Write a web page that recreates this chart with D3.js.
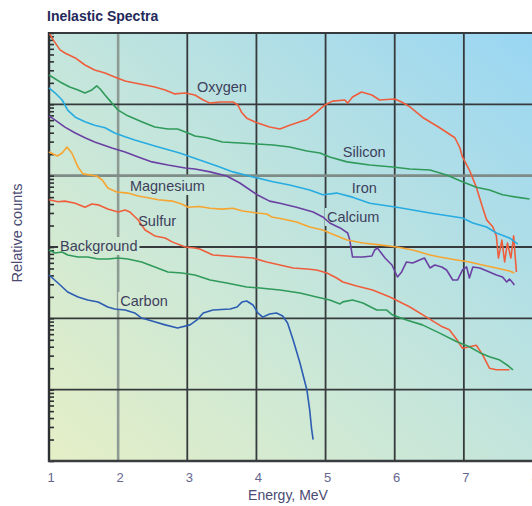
<!DOCTYPE html>
<html>
<head>
<meta charset="utf-8">
<script src="https://cdn.jsdelivr.net/npm/d3@7"></script>
<style>
  html, body { margin: 0; padding: 0; background: #fff; }
  svg { display: block; }
</style>
</head>
<body>
<div id="chart"></div>
<script>
// Datos: [energía MeV, cuentas relativas]
const energyTicks = [1, 2, 3, 4, 5, 6, 7, 8]
const decades = [1, 10, 100, 1e3, 1e4, 1e5, 1e6]

const oxygen = [
  [1.01, 9.7e5], [1.06, 8.0e5], [1.16, 5.8e5], [1.23, 5.25e5], [1.38, 4.47e5], [1.52, 3.56e5],
  [1.66, 3.03e5], [1.81, 2.75e5], [1.95, 2.42e5], [2.10, 2.12e5], [2.24, 1.99e5], [2.39, 1.87e5],
  [2.53, 1.75e5], [2.68, 1.59e5], [2.82, 1.40e5], [2.97, 1.44e5], [3.11, 1.35e5], [3.23, 1.15e5],
  [3.33, 1.04e5], [3.47, 1.08e5], [3.66, 1.08e5], [3.73, 9.8e4], [3.79, 7.6e4], [3.86, 6.4e4],
  [4.01, 5.5e4], [4.19, 4.8e4], [4.34, 4.5e4], [4.48, 5.1e4], [4.63, 5.7e4], [4.74, 6.2e4],
  [4.87, 7.8e4], [4.99, 9.8e4], [5.10, 1.11e5], [5.28, 1.15e5], [5.32, 1.04e5], [5.39, 1.27e5],
  [5.52, 1.49e5], [5.67, 1.35e5], [5.78, 1.15e5], [6.00, 1.19e5], [6.10, 1.08e5], [6.22, 9.2e4],
  [6.40, 6.6e4], [6.65, 4.7e4], [6.87, 3.4e4], [6.94, 2.5e4], [6.98, 1.83e4], [7.08, 1.2e4],
  [7.18, 6.9e3], [7.27, 3.6e3], [7.33, 2.4e3], [7.42, 1.91e3], [7.47, 1.43e3], [7.50, 700],
  [7.55, 1.25e3], [7.59, 617], [7.63, 1.14e3], [7.68, 700], [7.72, 1.43e3], [7.76, 447]
]
const silicon = [
  [1.00, 2.58e5], [1.16, 2.06e5], [1.30, 1.75e5], [1.42, 1.59e5], [1.52, 1.44e5], [1.62, 1.59e5],
  [1.69, 1.81e5], [1.74, 1.64e5], [1.81, 1.35e5], [1.91, 1.04e5], [2.00, 8.3e4], [2.14, 6.9e4],
  [2.34, 5.7e4], [2.53, 4.8e4], [2.72, 4.5e4], [2.86, 4.5e4], [3.01, 3.96e4], [3.11, 3.6e4],
  [3.28, 3.4e4], [3.51, 2.97e4], [3.76, 2.87e4], [4.01, 2.78e4], [4.24, 2.69e4], [4.48, 2.52e4],
  [4.73, 2.22e4], [4.92, 2.08e4], [5.06, 1.83e4], [5.31, 1.56e4], [5.64, 1.41e4], [5.97, 1.32e4],
  [6.22, 1.24e4], [6.51, 1.2e4], [6.75, 1.02e4], [6.98, 8.2e3], [7.18, 6.9e3], [7.37, 6.3e3],
  [7.56, 5.4e3], [7.76, 5.0e3], [7.95, 4.7e3]
]
const iron = [
  [1.00, 1.70e5], [1.09, 1.44e5], [1.19, 1.15e5], [1.27, 8.3e4], [1.38, 6.6e4], [1.52, 5.7e4],
  [1.66, 5.1e4], [1.81, 4.7e4], [1.95, 3.96e4], [2.10, 3.5e4], [2.24, 3.16e4], [2.53, 2.6e4],
  [2.89, 2.08e4], [3.18, 1.66e4], [3.47, 1.32e4], [3.66, 1.13e4], [3.95, 9.6e3], [4.24, 8.2e3],
  [4.48, 7.4e3], [4.77, 6.3e3], [4.96, 5.4e3], [5.16, 5.7e3], [5.39, 5.0e3], [5.64, 4.1e3],
  [6.03, 3.6e3], [6.26, 3.3e3], [6.51, 3.0e3], [6.98, 2.55e3], [7.13, 2.17e3], [7.33, 1.91e3],
  [7.47, 1.57e3], [7.66, 1.34e3], [7.78, 1.10e3]
]
const calcium = [
  [1.00, 6.9e4], [1.09, 6.0e4], [1.23, 4.8e4], [1.38, 3.96e4], [1.52, 3.4e4], [1.66, 2.97e4],
  [1.91, 2.44e4], [2.10, 2.15e4], [2.29, 1.83e4], [2.49, 1.56e4], [2.72, 1.41e4], [2.97, 1.28e4],
  [3.11, 1.24e4], [3.33, 1.13e4], [3.57, 9.9e3], [3.76, 7.9e3], [4.01, 5.4e3], [4.19, 4.4e3],
  [4.34, 4.1e3], [4.58, 3.6e3], [4.82, 3.1e3], [4.96, 2.64e3], [5.06, 2.17e3], [5.21, 1.85e3],
  [5.32, 1.57e3], [5.35, 1.25e3], [5.39, 724], [5.54, 724], [5.67, 748], [5.71, 908],
  [5.75, 968], [5.86, 701], [5.96, 560], [6.04, 380], [6.10, 447], [6.17, 617], [6.26, 597],
  [6.36, 658], [6.43, 701], [6.51, 508], [6.58, 560], [6.68, 525], [6.75, 476], [6.84, 345],
  [6.91, 345], [6.98, 476], [7.04, 525], [7.08, 368], [7.13, 525], [7.23, 508], [7.37, 447],
  [7.47, 405], [7.56, 380], [7.62, 323], [7.66, 356], [7.71, 313], [7.73, 293]
]
const magnesium = [
  [1.00, 2.15e4], [1.12, 1.89e4], [1.19, 2.08e4], [1.26, 2.52e4], [1.33, 2.08e4], [1.42, 1.32e4],
  [1.49, 1.06e4], [1.69, 9.9e3], [1.77, 8.7e3], [1.85, 6.7e3], [1.98, 5.9e3], [2.14, 5.7e3],
  [2.29, 5.2e3], [2.43, 4.9e3], [2.58, 4.6e3], [2.78, 4.4e3], [2.92, 4.0e3], [3.01, 3.6e3],
  [3.18, 3.7e3], [3.33, 3.5e3], [3.51, 3.4e3], [3.66, 3.5e3], [3.80, 3.2e3], [4.01, 3.0e3],
  [4.15, 2.9e3], [4.22, 2.64e3], [4.38, 2.47e3], [4.58, 2.24e3], [4.77, 1.91e3], [4.96, 1.73e3],
  [5.06, 1.57e3], [5.31, 1.25e3], [5.54, 1.14e3], [5.78, 1.07e3], [6.03, 1.0e3], [6.26, 908],
  [6.51, 773], [6.65, 724], [6.90, 658], [7.08, 617], [7.27, 560], [7.47, 508], [7.66, 461],
  [7.73, 432]
]
const sulfur = [
  [1.00, 4.6e3], [1.13, 4.3e3], [1.23, 4.4e3], [1.38, 4.1e3], [1.52, 3.6e3], [1.62, 4.0e3],
  [1.71, 3.9e3], [1.85, 3.4e3], [2.00, 3.1e3], [2.10, 3.3e3], [2.17, 3.1e3], [2.29, 2.39e3],
  [2.39, 1.73e3], [2.53, 1.43e3], [2.68, 1.34e3], [2.78, 1.18e3], [2.97, 1.0e3], [3.11, 968],
  [3.18, 938], [3.37, 773], [3.57, 748], [3.76, 724], [3.95, 701], [4.15, 617], [4.34, 560],
  [4.53, 508], [4.73, 492], [4.87, 476], [5.02, 432], [5.16, 368], [5.25, 323], [5.45, 284],
  [5.68, 250], [5.93, 199], [6.22, 144], [6.46, 104], [6.69, 76], [6.79, 69], [6.90, 50],
  [6.98, 38], [7.08, 40], [7.18, 42], [7.27, 31], [7.37, 20], [7.47, 19], [7.66, 19]
]
const background = [
  [1.00, 908], [1.09, 824], [1.19, 851], [1.27, 773], [1.42, 724], [1.56, 724], [1.71, 679],
  [1.85, 679], [2.00, 701], [2.14, 679], [2.34, 617], [2.53, 525], [2.72, 447], [2.92, 432],
  [3.11, 405], [3.33, 345], [3.57, 313], [3.86, 275], [4.05, 266], [4.34, 250], [4.63, 227],
  [4.87, 199], [5.06, 181], [5.21, 159], [5.25, 170], [5.39, 181], [5.54, 164], [5.74, 131],
  [5.88, 131], [5.97, 111], [6.17, 95], [6.40, 81], [6.65, 62], [6.90, 47], [7.08, 40],
  [7.23, 33], [7.37, 29], [7.52, 26], [7.63, 22], [7.71, 19]
]
const carbon = [
  [1.00, 405], [1.13, 313], [1.27, 234], [1.42, 199], [1.56, 181], [1.71, 169], [1.85, 144],
  [1.95, 135], [2.10, 131], [2.24, 119], [2.34, 101], [2.49, 92], [2.68, 81], [2.86, 73],
  [3.04, 81], [3.14, 95], [3.23, 119], [3.37, 131], [3.62, 135], [3.72, 144], [3.79, 169],
  [3.86, 175], [3.95, 154], [4.02, 119], [4.09, 104], [4.19, 115], [4.29, 119], [4.38, 108],
  [4.45, 86], [4.53, 50], [4.63, 23.7], [4.73, 9.9], [4.77, 5.2], [4.80, 2.7], [4.82, 2.0]
]

// Etiquetas: nombre y punto de anclaje [energía, cuentas]
const labelNames = ["Oxygen", "Silicon", "Iron", "Magnesium", "Calcium", "Sulfur", "Background", "Carbon"]
const labelAnchors = [[3.14, 1.49e5], [5.25, 1.83e4], [5.38, 5.7e3], [2.17, 6.1e3], [5.02, 2.24e3], [2.29, 1.97e3], [1.16, 879], [2.03, 149]]

const series = [
  { data: oxygen, color: "#ef5e3c" },
  { data: silicon, color: "#2f9a5a" },
  { data: iron, color: "#27abe0" },
  { data: calcium, color: "#6a40a2" },
  { data: magnesium, color: "#f6a531" },
  { data: sulfur, color: "#ef5e3c" },
  { data: background, color: "#2f9a5a" },
  { data: carbon, color: "#2c5db2" }
]

const W = 532, H = 506
const mLeft = 49, mRight = 533, mTop = 33, mBottom = 461

const svg = d3.select("#chart").append("svg")
  .attr("width", W)
  .attr("height", H)

const x = d3.scaleLinear().domain([1, 8]).range([mLeft, mRight])
const y = d3.scaleLog().domain([1, 1e6]).range([mBottom, mTop])

const defs = svg.append("defs")
const grad = defs.append("linearGradient")
  .attr("id", "bg")
  .attr("x1", 0).attr("y1", 1).attr("x2", 1).attr("y2", 0)
grad.append("stop").attr("offset", 0).attr("stop-color", "#e5efc6")
grad.append("stop").attr("offset", 0.5).attr("stop-color", "#c3e5dc")
grad.append("stop").attr("offset", 1).attr("stop-color", "#99d6f3")

const mask = defs.append("mask")
  .attr("id", "gridMask")
  .attr("maskUnits", "userSpaceOnUse")
  .attr("x", 0).attr("y", 0).attr("width", W).attr("height", H)
mask.append("rect").attr("width", W).attr("height", H).attr("fill", "#fff")

// Fondo del área
svg.append("rect")
  .attr("x", mLeft).attr("y", mTop)
  .attr("width", W - mLeft).attr("height", mBottom - mTop)
  .attr("fill", "url(#bg)")

// Rejilla
const grid = svg.append("g").attr("mask", "url(#gridMask)")
grid.selectAll("line.v")
  .data(energyTicks.slice(1))
  .join("line")
  .attr("class", "v")
  .attr("x1", d => x(d)).attr("x2", d => x(d))
  .attr("y1", mTop).attr("y2", mBottom)
  .attr("stroke", d => d === 2 ? "#8e9b94" : "#363a3c")
  .attr("stroke-width", d => d === 2 ? 2.6 : 1.8)

grid.selectAll("line.h")
  .data(decades.slice(1))
  .join("line")
  .attr("class", "h")
  .attr("x1", mLeft).attr("x2", W)
  .attr("y1", d => y(d)).attr("y2", d => y(d))
  .attr("stroke", d => d === 1e4 ? "#7f8b86" : "#363a3c")
  .attr("stroke-width", d => d === 1e4 ? 2.6 : 1.8)

// Marcas menores del eje izquierdo
svg.append("g")
  .attr("transform", `translate(${mLeft},0)`)
  .call(d3.axisRight(y).tickSize(5).tickFormat(""))
  .call(g => g.select(".domain").remove())
  .call(g => g.selectAll(".tick line").attr("stroke", "#2e3133").attr("stroke-width", 1.6))

// Bordes
svg.append("line").attr("x1", mLeft).attr("x2", mLeft).attr("y1", mTop - 1).attr("y2", mBottom + 1)
  .attr("stroke", "#2e3133").attr("stroke-width", 2.4)
svg.append("line").attr("x1", mLeft - 1).attr("x2", W).attr("y1", mBottom).attr("y2", mBottom)
  .attr("stroke", "#3a3d3f").attr("stroke-width", 2.4)

// Curvas
const line = d3.line()
  .x(d => x(d[0]))
  .y(d => y(d[1]))

svg.append("g")
  .selectAll("path")
  .data(series)
  .join("path")
  .attr("d", d => line(d.data))
  .attr("fill", "none")
  .attr("stroke", d => d.color)
  .attr("stroke-width", 1.6)
  .attr("stroke-linejoin", "round")

// Etiquetas de curvas
const font = "'Liberation Sans', Arial, sans-serif"
const labels = svg.append("g")
  .selectAll("text")
  .data(labelNames)
  .join("text")
  .attr("x", (d, i) => x(labelAnchors[i][0]))
  .attr("y", (d, i) => y(labelAnchors[i][1]))
  .attr("font-family", font)
  .attr("font-size", 14.5)
  .attr("fill", "#3d3f5c")
  .text(d => d)

labels.each(function() {
  const b = this.getBBox()
  mask.append("rect")
    .attr("x", b.x - 2).attr("y", b.y - 1)
    .attr("width", b.width + 4).attr("height", b.height + 2)
    .attr("fill", "#000")
})

// Etiquetas del eje X
svg.append("g")
  .selectAll("text")
  .data(energyTicks)
  .join("text")
  .attr("x", d => x(d) + 2)
  .attr("y", 482)
  .attr("text-anchor", "middle")
  .attr("font-family", font)
  .attr("font-size", 13)
  .attr("fill", "#66668f")
  .text(d => d)

svg.append("text")
  .attr("x", 288)
  .attr("y", 500)
  .attr("text-anchor", "middle")
  .attr("font-family", font)
  .attr("font-size", 14)
  .attr("fill", "#4a4a72")
  .text("Energy, MeV")

svg.append("text")
  .attr("transform", "translate(22,233) rotate(-90)")
  .attr("text-anchor", "middle")
  .attr("font-family", font)
  .attr("font-size", 14.5)
  .attr("fill", "#4a4a72")
  .text("Relative counts")

svg.append("text")
  .attr("x", 47)
  .attr("y", 21)
  .attr("font-family", font)
  .attr("font-size", 14)
  .attr("font-weight", "bold")
  .attr("fill", "#23295a")
  .text("Inelastic Spectra")
</script>
</body>
</html>
